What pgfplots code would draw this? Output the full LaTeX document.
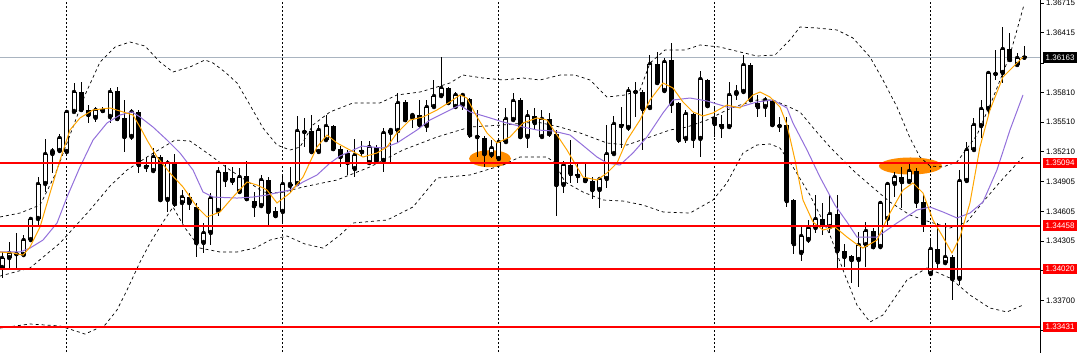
\documentclass[border=0pt]{standalone}
\usepackage{fontspec}
\setmainfont{Liberation Sans}
\usepackage{pgfplots}
\usepackage{pgfplotstable}
\pgfplotsset{compat=1.18}
\usetikzlibrary{shapes.geometric}
\definecolor{maorange}{HTML}{FFA500}
\definecolor{mapurple}{HTML}{9370DB}
\definecolor{ellorange}{HTML}{FF8C00}
\definecolor{bidgray}{HTML}{A9B4C0}

\pgfplotstableread{
i O H L C
0 1.34030 1.34192 1.33928 1.34131
1 1.34131 1.34293 1.34030 1.34182
3 1.34161 1.34364 1.34141 1.34313
4 1.34313 1.34547 1.34293 1.34527
5 1.34527 1.34952 1.34455 1.34881
6 1.34881 1.35338 1.34800 1.35185
7 1.35185 1.35246 1.34993 1.35216
8 1.35216 1.35388 1.35206 1.35348
9 1.35206 1.35632 1.35196 1.35612
10 1.35612 1.35906 1.35602 1.35814
13 1.35551 1.35662 1.35510 1.35632
15 1.35561 1.35855 1.35500 1.35814
18 1.35358 1.35642 1.35327 1.35612
21 1.35013 1.35246 1.35003 1.35155
23 1.34719 1.35125 1.34598 1.35094
25 1.34689 1.34820 1.34486 1.34749
28 1.34283 1.34486 1.34182 1.34385
29 1.34385 1.34790 1.34262 1.34739
30 1.34608 1.35054 1.34557 1.35003
33 1.34800 1.35043 1.34790 1.34952
36 1.34658 1.34973 1.34648 1.34922
39 1.34598 1.34973 1.34486 1.34881
40 1.34861 1.35054 1.34790 1.34881
41 1.34881 1.35571 1.34871 1.35419
44 1.35206 1.35480 1.35185 1.35429
45 1.35327 1.35581 1.35307 1.35469
49 1.35033 1.35338 1.34952 1.35175
51 1.35094 1.35317 1.35084 1.35256
53 1.35115 1.35449 1.35003 1.35399
54 1.35399 1.35449 1.35094 1.35429
55 1.35419 1.35804 1.35307 1.35703
57 1.35551 1.35602 1.35449 1.35581
59 1.35469 1.35733 1.35409 1.35662
60 1.35662 1.35936 1.35652 1.35773
61 1.35773 1.36169 1.35763 1.35855
63 1.35662 1.35814 1.35652 1.35784
64 1.35682 1.35804 1.35632 1.35784
68 1.35175 1.35327 1.35145 1.35246
69 1.35135 1.35327 1.35125 1.35307
70 1.35307 1.35652 1.35297 1.35541
71 1.35530 1.35804 1.35510 1.35723
73 1.35358 1.35632 1.35246 1.35571
75 1.35358 1.35632 1.35348 1.35541
78 1.34871 1.35115 1.34790 1.35074
83 1.34820 1.34952 1.34638 1.34932
84 1.34932 1.35480 1.34841 1.35185
85 1.35185 1.35571 1.35175 1.35490
87 1.35449 1.35865 1.35419 1.35824
90 1.35652 1.36189 1.35632 1.36098
92 1.35824 1.36159 1.35814 1.36119
95 1.35338 1.35632 1.35297 1.35591
97 1.35338 1.36027 1.35155 1.35946
101 1.35459 1.35916 1.35449 1.35784
102 1.35794 1.35885 1.35733 1.35814
103 1.35814 1.36189 1.35804 1.36088
106 1.35662 1.35763 1.35561 1.35733
111 1.34182 1.34465 1.34101 1.34354
112 1.34313 1.34516 1.34283 1.34435
113 1.34435 1.34770 1.34385 1.34527
115 1.34445 1.34770 1.34385 1.34577
119 1.34111 1.34395 1.33837 1.34262
120 1.34262 1.34496 1.34040 1.34405
122 1.34242 1.34699 1.34232 1.34689
123 1.34527 1.34892 1.34465 1.34881
124 1.34881 1.35003 1.34749 1.34952
126 1.34902 1.35105 1.34892 1.35013
129 1.33969 1.34334 1.33959 1.34222
131 1.34080 1.34486 1.34070 1.34141
133 1.33918 1.35023 1.33857 1.34912
134 1.34912 1.35307 1.34892 1.35226
135 1.35226 1.35551 1.35206 1.35480
136 1.35469 1.35733 1.35348 1.35642
137 1.35642 1.36017 1.35581 1.36007
139 1.36007 1.36473 1.35906 1.36250
141 1.36088 1.36210 1.36078 1.36159
}\bull

\pgfplotstableread{
i O H L C
2 1.34182 1.34385 1.34030 1.34171
11 1.35814 1.35916 1.35612 1.35632
12 1.35632 1.35682 1.35500 1.35581
14 1.35642 1.35662 1.35602 1.35622
16 1.35824 1.35865 1.35530 1.35541
17 1.35551 1.35733 1.35206 1.35358
19 1.35612 1.35632 1.34993 1.35074
20 1.35074 1.35155 1.35003 1.35054
22 1.35155 1.35175 1.34699 1.34719
24 1.35094 1.35185 1.34648 1.34678
26 1.34749 1.34790 1.34618 1.34689
27 1.34648 1.34689 1.34141 1.34283
31 1.35003 1.35074 1.34851 1.34922
32 1.34942 1.35054 1.34871 1.34912
34 1.34963 1.35115 1.34719 1.34729
35 1.34709 1.34800 1.34547 1.34658
37 1.34922 1.34952 1.34465 1.34598
38 1.34608 1.34648 1.34547 1.34557
42 1.35419 1.35551 1.35256 1.35409
43 1.35419 1.35581 1.35196 1.35206
46 1.35469 1.35480 1.35226 1.35236
47 1.35236 1.35266 1.35054 1.35155
48 1.35196 1.35226 1.34973 1.35094
50 1.35226 1.35317 1.35165 1.35206
52 1.35256 1.35276 1.35105 1.35115
56 1.35713 1.35733 1.35510 1.35530
58 1.35581 1.35733 1.35449 1.35480
62 1.35855 1.35865 1.35682 1.35703
65 1.35743 1.35753 1.35348 1.35378
66 1.35368 1.35632 1.35155 1.35358
67 1.35348 1.35368 1.35054 1.35185
72 1.35733 1.35753 1.35348 1.35358
74 1.35571 1.35652 1.35429 1.35500
76 1.35541 1.35602 1.35358 1.35388
77 1.35388 1.35429 1.34557 1.34871
79 1.35074 1.35327 1.34892 1.34983
80 1.34983 1.35094 1.34892 1.34963
81 1.34942 1.35094 1.34892 1.34912
82 1.34912 1.34952 1.34729 1.34820
86 1.35490 1.35662 1.35246 1.35469
88 1.35824 1.35916 1.35561 1.35814
89 1.35814 1.35834 1.35226 1.35642
91 1.36098 1.36220 1.35885 1.35906
93 1.36139 1.36311 1.35602 1.35692
94 1.35703 1.35713 1.35297 1.35327
96 1.35591 1.35602 1.35246 1.35338
98 1.35936 1.35946 1.35662 1.35672
99 1.35561 1.35662 1.35358 1.35490
100 1.35490 1.35581 1.35348 1.35459
104 1.36088 1.36108 1.35723 1.35733
105 1.35703 1.35784 1.35561 1.35662
107 1.35723 1.35733 1.35459 1.35480
108 1.35480 1.35561 1.35409 1.35469
109 1.35480 1.35561 1.34648 1.34709
110 1.34719 1.34729 1.34171 1.34273
114 1.34527 1.34689 1.34364 1.34465
116 1.34577 1.34770 1.34030 1.34202
117 1.34202 1.34273 1.34040 1.34141
118 1.34151 1.34161 1.33878 1.34111
121 1.34405 1.34435 1.34232 1.34242
125 1.34952 1.35054 1.34638 1.34902
127 1.35013 1.35043 1.34638 1.34699
128 1.34699 1.34770 1.34395 1.34476
130 1.34222 1.34486 1.34030 1.34090
132 1.34141 1.34161 1.33705 1.33918
138 1.36007 1.36240 1.35936 1.35997
140 1.36250 1.36412 1.36128 1.36139
142 1.36175 1.36280 1.36139 1.36163
}\bear

\pgfplotstableread{
x y
-0.28 1.34192
1.53 1.34182
2.92 1.34161
3.89 1.34242
5.28 1.34445
6.67 1.34790
8.06 1.35125
9.44 1.35429
10.83 1.35551
12.64 1.35632
15.0 1.35652
16.81 1.35612
18.19 1.35581
19.17 1.35459
20.14 1.35327
21.53 1.35155
23.33 1.34993
25.14 1.34851
27.08 1.34648
28.47 1.34547
30.28 1.34598
32.08 1.34749
34.03 1.34902
35.42 1.34871
36.81 1.34820
38.19 1.34689
40.0 1.34790
41.81 1.34952
43.75 1.35256
45.14 1.35378
46.53 1.35297
48.33 1.35226
50.14 1.35155
52.08 1.35196
53.47 1.35256
54.86 1.35399
56.67 1.35530
58.47 1.35561
60.42 1.35632
62.22 1.35713
63.61 1.35784
64.58 1.35753
65.97 1.35561
67.36 1.35399
68.75 1.35297
70.56 1.35358
72.36 1.35500
74.31 1.35551
75.69 1.35530
77.08 1.35378
78.47 1.35226
80.69 1.34952
82.64 1.34922
84.03 1.34993
85.42 1.35094
86.81 1.35327
88.61 1.35530
90.0 1.35733
91.81 1.35906
93.19 1.35855
94.58 1.35713
95.97 1.35612
97.36 1.35571
98.75 1.35602
100.69 1.35682
102.5 1.35652
104.31 1.35784
105.28 1.35814
106.67 1.35763
108.06 1.35662
109.03 1.35480
110.14 1.35125
111.25 1.34719
112.64 1.34496
114.03 1.34415
115.69 1.34445
117.36 1.34344
118.47 1.34283
119.58 1.34232
121.53 1.34313
123.33 1.34587
125.14 1.34820
126.53 1.34892
127.92 1.34790
129.31 1.34516
130.69 1.34344
131.94 1.34182
133.06 1.34344
134.44 1.34689
135.83 1.35256
137.22 1.35632
139.03 1.35966
140.97 1.36108
141.81 1.36169
}\maO

\pgfplotstableread{
x y
-0.28 1.34192
2.5 1.34192
3.89 1.34232
5.69 1.34313
7.64 1.34486
9.03 1.34749
10.83 1.35054
12.64 1.35327
14.58 1.35500
16.39 1.35581
18.06 1.35612
19.17 1.35561
20.97 1.35459
22.92 1.35327
24.72 1.35196
26.53 1.35023
27.92 1.34800
29.31 1.34749
32.64 1.34739
34.86 1.34749
36.81 1.34770
38.61 1.34800
40.0 1.34820
41.81 1.34902
43.75 1.34973
45.56 1.35094
46.94 1.35165
50.0 1.35266
52.92 1.35246
54.86 1.35297
57.64 1.35429
59.44 1.35530
62.22 1.35632
63.61 1.35682
65.0 1.35612
67.36 1.35561
69.58 1.35510
72.36 1.35459
74.31 1.35429
76.53 1.35419
78.89 1.35378
80.28 1.35297
82.64 1.35155
84.03 1.35094
85.83 1.35074
87.64 1.35196
89.58 1.35358
91.81 1.35602
93.19 1.35733
95.56 1.35753
97.92 1.35723
100.69 1.35662
102.5 1.35662
104.86 1.35713
107.08 1.35733
109.03 1.35652
109.86 1.35500
111.81 1.35226
113.61 1.34952
115.69 1.34668
117.36 1.34496
118.75 1.34344
121.53 1.34344
124.31 1.34486
127.08 1.34618
128.89 1.34648
130.69 1.34598
132.64 1.34537
134.44 1.34587
136.25 1.34699
138.19 1.35023
140.0 1.35429
141.81 1.35784
}\maP

\pgfplotstableread{
x y
-0.28 1.34547
2.5 1.34587
5.28 1.34668
7.36 1.34973
9.44 1.35378
11.53 1.35784
13.61 1.36118
15.69 1.36270
17.78 1.36321
19.86 1.36280
21.94 1.36118
23.75 1.36017
26.11 1.36068
28.19 1.36139
29.31 1.36108
30.97 1.36017
32.64 1.35906
34.44 1.35682
36.25 1.35449
38.19 1.35277
40.0 1.35226
41.39 1.35256
43.19 1.35480
45.56 1.35612
48.75 1.35703
52.5 1.35703
54.86 1.35784
58.06 1.35814
60.42 1.35865
62.22 1.35906
64.03 1.35986
66.81 1.35956
69.58 1.35936
72.36 1.35956
74.72 1.35936
77.5 1.35986
79.58 1.35986
81.67 1.35936
84.03 1.35763
86.53 1.35784
88.61 1.35834
90.0 1.36108
92.08 1.36240
94.86 1.36240
96.94 1.36291
99.72 1.36270
102.5 1.36220
104.86 1.36179
107.36 1.36189
109.44 1.36341
110.83 1.36473
113.19 1.36463
115.97 1.36443
118.19 1.36362
120.56 1.36169
122.36 1.35936
124.31 1.35662
126.11 1.35348
127.5 1.35155
128.89 1.35064
130.69 1.35054
132.64 1.35105
135.42 1.35378
137.64 1.35753
140.0 1.36189
141.94 1.36696
}\bbU

\pgfplotstableread{
x y
-0.28 1.33948
3.89 1.34030
8.06 1.34283
12.22 1.34618
15.0 1.34861
17.36 1.35023
20.56 1.35175
24.03 1.35327
26.11 1.35317
28.89 1.35175
31.67 1.35023
34.44 1.34892
36.25 1.34800
38.61 1.34790
41.81 1.34851
46.53 1.34922
51.11 1.35054
55.69 1.35226
60.42 1.35358
65.0 1.35459
69.58 1.35480
74.31 1.35510
77.5 1.35459
80.28 1.35399
84.03 1.35297
86.81 1.35277
90.0 1.35358
92.78 1.35429
95.14 1.35459
97.92 1.35530
100.69 1.35632
102.5 1.35682
104.86 1.35733
107.08 1.35733
109.03 1.35672
110.83 1.35612
112.92 1.35429
115.0 1.35256
118.47 1.35003
120.56 1.34871
123.33 1.34699
126.11 1.34567
128.89 1.34496
131.67 1.34435
134.03 1.34496
136.25 1.34699
138.61 1.34902
141.81 1.35155
}\bbM

\pgfplotstableread{
x y
-0.28 1.33421
3.89 1.33462
8.06 1.33442
11.53 1.33360
14.31 1.33452
15.97 1.33604
17.36 1.33806
19.17 1.34090
20.56 1.34283
22.36 1.34496
23.75 1.34648
25.42 1.34435
27.5 1.34232
30.28 1.34192
32.64 1.34192
35.14 1.34232
37.22 1.34313
39.58 1.34354
42.08 1.34273
44.58 1.34232
46.94 1.34364
48.75 1.34486
53.47 1.34516
57.08 1.34648
60.42 1.34942
65.0 1.34973
69.58 1.35074
71.94 1.35155
75.69 1.35155
76.81 1.35094
78.19 1.34902
80.69 1.34800
83.47 1.34719
86.25 1.34709
89.03 1.34668
91.81 1.34598
95.56 1.34587
98.75 1.34719
100.69 1.34892
102.92 1.35196
104.86 1.35277
106.67 1.35287
108.06 1.35246
109.86 1.35054
112.22 1.34770
115.0 1.34364
117.08 1.33959
118.75 1.33654
120.56 1.33482
122.36 1.33553
125.69 1.33908
128.47 1.34030
131.67 1.33928
134.44 1.33756
137.22 1.33624
139.58 1.33584
141.81 1.33654
}\bbL

\begin{document}
\begin{tikzpicture}
\begin{axis}[
  at={(0,0)}, anchor=south west,
  width=1040bp, height=353bp, scale only axis,
  xmin=-0.28, xmax=144.17, ymin=1.33168, ymax=1.36747,
  enlargelimits=false,
  axis x line=none, axis y line*=right,
  y axis line style={black, line width=0.8bp},
  ytick={1.36715,1.36415,1.36110,1.35810,1.35510,1.35210,1.34905,1.34605,1.34305,1.34005,1.33700,1.33400},
  yticklabels={1.36715,1.36415,{},1.35810,1.35510,1.35210,1.34905,1.34605,1.34305,{},1.33700,{}},
  scaled y ticks=false,
  tick align=outside, major tick length=4bp,
  y tick style={black, line width=0.6bp},
  yticklabel style={font=\fontsize{8}{9.6}\selectfont, text=black, inner sep=2bp},
  clip mode=individual,
]
% highlight ellipses (background)
\node[ellipse, fill=ellorange, minimum width=42bp, minimum height=17bp, inner sep=0pt] at (axis cs:67.78,1.35138) {};
\node[ellipse, fill=ellorange, minimum width=63bp, minimum height=17bp, inner sep=0pt] at (axis cs:126.18,1.35064) {};
% vertical grid
\addplot[black, line width=0.8bp, dash pattern=on 2bp off 2bp] coordinates {(9,1.32) (9,1.38)};
\addplot[black, line width=0.8bp, dash pattern=on 2bp off 2bp] coordinates {(39,1.32) (39,1.38)};
\addplot[black, line width=0.8bp, dash pattern=on 2bp off 2bp] coordinates {(69,1.32) (69,1.38)};
\addplot[black, line width=0.8bp, dash pattern=on 2bp off 2bp] coordinates {(99,1.32) (99,1.38)};
\addplot[black, line width=0.8bp, dash pattern=on 2bp off 2bp] coordinates {(129,1.32) (129,1.38)};
% bid line
\addplot[bidgray, line width=1bp] coordinates {(-1,1.36163) (146,1.36163)};
% wicks
\addplot[only marks, mark=none, error bars/.cd, y dir=both, y explicit, error mark=none,
  error bar style={draw=black, solid, line width=1bp}]
  table[x=i, y=C, y error plus expr=\thisrow{H}-\thisrow{C}, y error minus expr=\thisrow{C}-\thisrow{L}] {\bull};
\addplot[only marks, mark=none, error bars/.cd, y dir=both, y explicit, error mark=none,
  error bar style={draw=black, solid, line width=1bp}]
  table[x=i, y=C, y error plus expr=\thisrow{H}-\thisrow{C}, y error minus expr=\thisrow{C}-\thisrow{L}] {\bear};
% bodies
\addplot[only marks, mark=none, error bars/.cd, y dir=plus, y explicit, error mark=none,
  error bar style={draw=black, solid, line width=5bp}]
  table[x=i, y=C, y error plus expr=\thisrow{O}-\thisrow{C}] {\bear};
\addplot[only marks, mark=none, error bars/.cd, y dir=plus, y explicit, error mark=none,
  error bar style={draw=black, solid, line width=5bp}]
  table[x=i, y=O, y error plus expr=\thisrow{C}-\thisrow{O}] {\bull};
\addplot[only marks, mark=none, error bars/.cd, y dir=plus, y explicit, error mark=none,
  error bar style={draw=white, solid, line width=3bp}]
  table[x=i, y expr=\thisrow{O}+0.0001, y error plus expr=\thisrow{C}-\thisrow{O}-0.0002] {\bull};
% Bollinger bands
\addplot[black, line width=0.7bp, dash pattern=on 3bp off 3bp] table {\bbU};
\addplot[black, line width=0.7bp, dash pattern=on 3bp off 3bp] table {\bbM};
\addplot[black, line width=0.7bp, dash pattern=on 3bp off 3bp] table {\bbL};
% moving averages
\addplot[mapurple, line width=1bp] table {\maP};
\addplot[maorange, line width=1bp] table {\maO};
% horizontal levels
\addplot[red, line width=1.6bp] coordinates {(-1,1.35094) (146,1.35094)};
\addplot[red, line width=1.6bp] coordinates {(-1,1.34458) (146,1.34458)};
\addplot[red, line width=1.6bp] coordinates {(-1,1.34020) (146,1.34020)};
\addplot[red, line width=1.6bp] coordinates {(-1,1.33431) (146,1.33431)};
% price labels
\node[anchor=west, xshift=2.5bp, fill=black, text=white, inner xsep=3bp, inner ysep=2.5bp, font=\fontsize{8}{9.6}\selectfont] at (axis cs:144.17,1.36163) {1.36163};
\node[anchor=west, xshift=2.5bp, fill=red, text=white, inner xsep=3bp, inner ysep=2.5bp, font=\fontsize{8}{9.6}\selectfont] at (axis cs:144.17,1.35094) {1.35094};
\node[anchor=west, xshift=2.5bp, fill=red, text=white, inner xsep=3bp, inner ysep=2.5bp, font=\fontsize{8}{9.6}\selectfont] at (axis cs:144.17,1.34458) {1.34458};
\node[anchor=west, xshift=2.5bp, fill=red, text=white, inner xsep=3bp, inner ysep=2.5bp, font=\fontsize{8}{9.6}\selectfont] at (axis cs:144.17,1.34020) {1.34020};
\node[anchor=west, xshift=2.5bp, fill=red, text=white, inner xsep=3bp, inner ysep=2.5bp, font=\fontsize{8}{9.6}\selectfont] at (axis cs:144.17,1.33431) {1.33431};
\end{axis}
\pgfresetboundingbox
\path[use as bounding box] (0,0) rectangle (1080bp,353bp);
\end{tikzpicture}
\end{document}
